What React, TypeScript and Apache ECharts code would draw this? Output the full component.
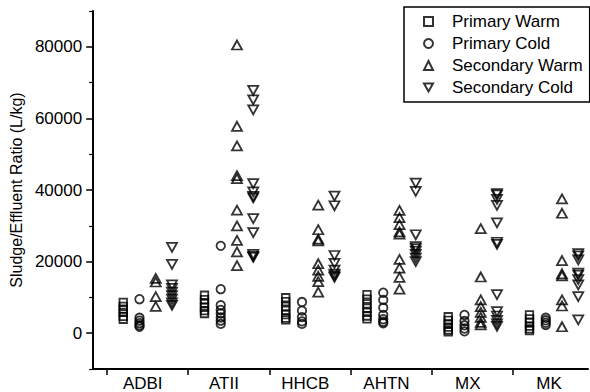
import React, { useEffect, useRef } from 'react';
import * as echarts from 'echarts';

const categories = ['ADBI', 'ATII', 'HHCB', 'AHTN', 'MX', 'MK'];
const seriesNames = ['Primary Warm', 'Primary Cold', 'Secondary Warm', 'Secondary Cold'];

const primaryWarm = [
  [8600, 7500, 6700, 5800, 4700, 3900],
  [10600, 9400, 8300, 7200, 6300, 5500],
  [9900, 8800, 7500, 6400, 5200, 4200, 3700],
  [10800, 9500, 8200, 7000, 5800, 4800, 4000],
  [4600, 3600, 2600, 1700, 900, 400],
  [5100, 4000, 3000, 2000, 1200, 700],
];
const primaryCold = [
  [9500, 4300, 3500, 2800, 2200, 1800],
  [24400, 12300, 7800, 6500, 5500, 4400, 3500, 2600],
  [8700, 6300, 4500, 3300, 2600],
  [11300, 9300, 7100, 5100, 3900, 3200, 2800],
  [5100, 3400, 2200, 1300, 500],
  [4300, 3600, 2900, 2300],
];
const secondaryWarm = [
  [15300, 14300, 10200, 7500],
  [80500, 57800, 52300, 44000, 43200, 34400, 30000, 25900, 22700, 18900],
  [35800, 28900, 26300, 25800, 19400, 17600, 15900, 14400, 11500],
  [34300, 32300, 30300, 28300, 27700, 20600, 18200, 15600, 12300],
  [29200, 15700, 9300, 7400, 5800, 4400, 3000, 2300],
  [37500, 33500, 20300, 16600, 16000, 9300, 7600, 1800],
];
const secondaryCold = [
  [24000, 19200, 13500, 12500, 11500, 10500, 9500, 8500, 7800],
  [67800, 65200, 62400, 41800, 39500, 38200, 37800, 32000, 28100, 22000, 21500, 21200],
  [38300, 35600, 21700, 19500, 17600, 16500, 16000, 15600],
  [41900, 39600, 27500, 24200, 23600, 22900, 22000, 21000, 20000],
  [39000, 38600, 37400, 35700, 30800, 25400, 24800, 10800, 6000, 4800, 3600, 2600, 1900],
  [22200, 21600, 20500, 16800, 16200, 15000, 13500, 10200, 3700],
];

const yMajorTicks = [0, 20000, 40000, 60000, 80000];
const yMinorTicks = [-10000, 10000, 30000, 50000, 70000, 90000];
const groupOffsets = [0.2, 0.4, 0.6, 0.8];
const labelOffset = 0.44;

function toPoints(groups: number[][], offset: number) {
  const out: number[][] = [];
  groups.forEach((vals, i) => vals.forEach((v) => out.push([i + 1 + offset, v])));
  return out;
}

const FONT = '"Liberation Sans", Arial, sans-serif';

export default function App() {
  const ref = useRef<HTMLDivElement>(null);
  useEffect(() => {
    const chart = echarts.init(ref.current!, null, { renderer: 'svg' });
    const allGroups = [primaryWarm, primaryCold, secondaryWarm, secondaryCold];
    const symbols = ['rect', 'circle', 'triangle', 'path://M0,0L10,0L5,9Z'];
    const sizes: any[] = [7.5, 8.5, [10, 9], [10, 9]];
    const catTicks = categories.map((_, i) => i + 1);
    const catLabels = categories.map((_, i) => i + 1 + labelOffset);
    chart.setOption({
      animation: false,
      backgroundColor: '#fff',
      textStyle: { fontFamily: FONT, color: '#000' },
      grid: { left: 93, right: 2, top: 11, bottom: 21 },
      legend: {
        orient: 'vertical',
        left: 404,
        top: 7,
        data: seriesNames,
        itemWidth: 9,
        itemHeight: 9,
        itemGap: 5,
        padding: [6, 7, 6, 19],
        borderColor: '#000',
        borderWidth: 1.5,
        backgroundColor: '#fff',
        textStyle: { fontSize: 17, color: '#000', fontFamily: FONT, padding: [0, 0, 0, 14] },
      },
      xAxis: {
        type: 'value',
        min: 0.83,
        max: 6.92,
        splitLine: { show: false },
        axisLine: { onZero: false, lineStyle: { color: '#000', width: 2 } },
        axisTick: { show: true, customValues: catTicks, length: 6, lineStyle: { color: '#000', width: 1.5 } },
        axisLabel: {
          customValues: catLabels,
          formatter: (v: number) => categories[Math.round(v - labelOffset) - 1] ?? '',
          color: '#000',
          fontSize: 17,
          fontFamily: FONT,
          margin: 6,
        },
      },
      yAxis: [
        {
          type: 'value',
          min: -10000,
          max: 90000,
          name: 'Sludge/Effluent Ratio (L/kg)',
          nameLocation: 'middle',
          nameGap: 64,
          nameTextStyle: { fontSize: 16, color: '#000', fontFamily: FONT },
          splitLine: { show: false },
          axisLine: { show: true, onZero: false, lineStyle: { color: '#000', width: 2 } },
          axisTick: { show: true, customValues: yMajorTicks, length: 7, lineStyle: { color: '#000', width: 1.5 } },
          axisLabel: {
            customValues: yMajorTicks,
            formatter: (v: number) => String(v),
            color: '#000',
            fontSize: 17,
            fontFamily: FONT,
            margin: 11,
          },
        },
        {
          type: 'value',
          min: -10000,
          max: 90000,
          position: 'left',
          splitLine: { show: false },
          axisLine: { show: false },
          axisTick: { show: true, customValues: yMinorTicks, length: 4, lineStyle: { color: '#000', width: 1.2 } },
          axisLabel: { show: false },
        },
      ],
      series: seriesNames.map((name, k) => ({
        name,
        type: 'scatter',
        yAxisIndex: 0,
        symbol: symbols[k],
        symbolSize: sizes[k],
        itemStyle: { color: 'rgba(0,0,0,0)', borderColor: '#000', borderWidth: 1.8 },
        data: toPoints(allGroups[k], groupOffsets[k]),
      })),
    });
    return () => chart.dispose();
  }, []);
  return (
    <div
      ref={ref}
      style={{ position: 'absolute', left: 0, top: 0, width: 590, height: 392, background: '#fff' }}
    />
  );
}
